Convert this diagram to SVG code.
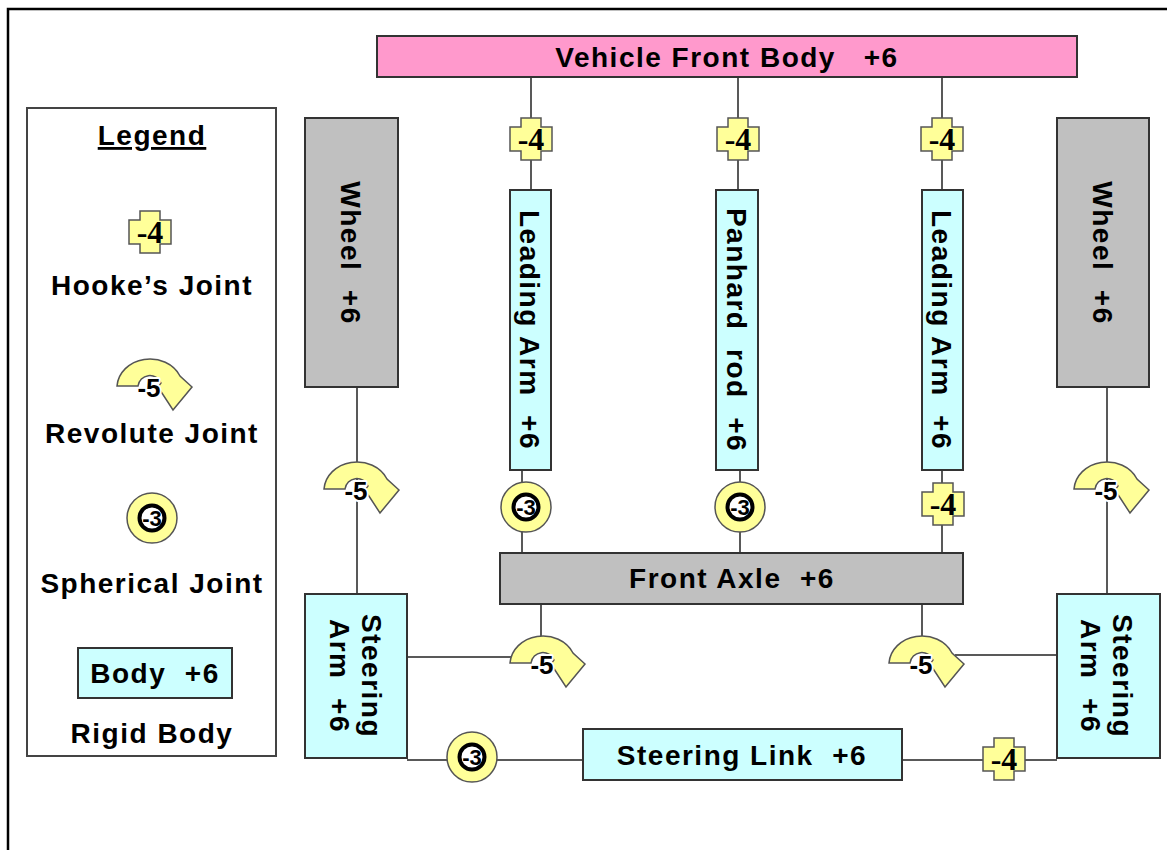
<svg xmlns="http://www.w3.org/2000/svg" xmlns:xlink="http://www.w3.org/1999/xlink" width="1167" height="850" viewBox="0 0 1167 850">
<style>
.t{font-family:"Liberation Sans",Arial,sans-serif;font-weight:bold;font-size:28px;letter-spacing:1.5px;fill:#000;text-anchor:middle;white-space:pre}
.pink{fill:#FF99CC;stroke:#333;stroke-width:2}
.gray{fill:#C0C0C0;stroke:#333;stroke-width:2}
.cyan{fill:#CCFFFF;stroke:#333;stroke-width:2}
.leg{fill:#fff;stroke:#444;stroke-width:2}
.j{fill:#FFFF99;stroke:#555;stroke-width:1.5}
.h4{font-family:"Liberation Serif","Times New Roman",serif;font-weight:bold;font-size:32px;fill:#000;text-anchor:middle}
.r5{font-family:"Liberation Sans",Arial,sans-serif;font-weight:bold;font-size:26px;fill:#000;text-anchor:middle;stroke:#fff;stroke-width:4;paint-order:stroke;stroke-linejoin:round}
.s3{font-family:"Liberation Sans",Arial,sans-serif;font-weight:bold;font-size:22px;fill:#000;text-anchor:middle}
.c{stroke:#222;stroke-width:1.5;fill:none}
</style>
<defs>
<path id="cross" class="j" d="M -10,-21 H 10 V -12 H 21 V 12 H 10 V 21 H -10 V 12 H -21 V -12 H -10 Z"/>
<path id="rev" class="j" d="M -33,0 A 33,29 0 0 1 30,-10 L 42,1 L 23,24 L 8,1 L 11,-3 A 12,12 0 0 0 -12,0 Z"/>
<g id="sph"><circle r="25" class="j"/><circle r="12.5" fill="#fff" stroke="#000" stroke-width="4"/></g>
</defs>
<rect width="1167" height="850" fill="#fff"/>
<rect x="8" y="9" width="1200" height="900" fill="none" stroke="#000" stroke-width="2.5"/>

<g id="connectors">
<line class="c" x1="531" y1="77" x2="531" y2="190"/>
<line class="c" x1="738" y1="77" x2="738" y2="190"/>
<line class="c" x1="942" y1="77" x2="942" y2="190"/>
<line class="c" x1="522" y1="470" x2="522" y2="553"/>
<line class="c" x1="740" y1="470" x2="740" y2="553"/>
<line class="c" x1="942" y1="470" x2="942" y2="553"/>
<line class="c" x1="357" y1="387" x2="357" y2="594"/>
<line class="c" x1="1107" y1="387" x2="1107" y2="594"/>
<line class="c" x1="541" y1="604" x2="541" y2="636"/>
<line class="c" x1="407" y1="657" x2="512" y2="657"/>
<line class="c" x1="922" y1="604" x2="922" y2="636"/>
<line class="c" x1="955" y1="655" x2="1057" y2="655"/>
<line class="c" x1="407" y1="760" x2="583" y2="760"/>
<line class="c" x1="902" y1="760" x2="1057" y2="760"/>
</g>

<g id="legend">
<rect class="leg" x="27" y="108" width="249" height="648"/>
<text class="t" x="152" y="145" text-decoration="underline">Legend</text>
<use href="#cross" x="150" y="232"/>
<text class="h4" x="150" y="243">-4</text>
<text class="t" x="152" y="295">Hooke’s Joint</text>
<use href="#rev" x="150" y="386"/>
<text class="r5" x="149" y="397">-5</text>
<text class="t" x="152" y="443">Revolute Joint</text>
<use href="#sph" x="152" y="518"/>
<text class="s3" x="152" y="526">-3</text>
<text class="t" x="152" y="593">Spherical Joint</text>
<rect class="cyan" x="78" y="648" width="154" height="50"/>
<text class="t" x="155" y="683">Body  +6</text>
<text class="t" x="152" y="743">Rigid Body</text>
</g>

<g id="vehicle-front-body">
<rect class="pink" x="377" y="36" width="700" height="41"/>
<text class="t" x="727" y="67">Vehicle Front Body   +6</text>
</g>

<g id="wheel-left">
<rect class="gray" x="305" y="118" width="93" height="269"/>
<text class="t" transform="translate(351,253) rotate(90)" y="10">Wheel  +6</text>
</g>
<g id="wheel-right">
<rect class="gray" x="1057" y="118" width="92" height="269"/>
<text class="t" transform="translate(1103,253) rotate(90)" y="10">Wheel  +6</text>
</g>

<g id="leading-arm-left">
<rect class="cyan" x="510" y="190" width="41" height="280"/>
<text class="t" transform="translate(530,330) rotate(90)" y="10">Leading Arm  +6</text>
</g>
<g id="panhard-rod">
<rect class="cyan" x="716" y="190" width="42" height="280"/>
<text class="t" transform="translate(737,330) rotate(90)" y="10">Panhard  rod  +6</text>
</g>
<g id="leading-arm-right">
<rect class="cyan" x="922" y="190" width="41" height="280"/>
<text class="t" transform="translate(942,330) rotate(90)" y="10">Leading Arm  +6</text>
</g>

<g id="front-axle">
<rect class="gray" x="500" y="553" width="463" height="51"/>
<text class="t" x="732" y="588">Front Axle  +6</text>
</g>

<g id="steering-arm-left">
<rect class="cyan" x="305" y="594" width="102" height="164"/>
<text class="t" transform="translate(356,676) rotate(90)"><tspan x="0" y="-6">Steering</tspan><tspan x="0" y="26">Arm  +6</tspan></text>
</g>
<g id="steering-arm-right">
<rect class="cyan" x="1057" y="594" width="103" height="164"/>
<text class="t" transform="translate(1107,676) rotate(90)"><tspan x="0" y="-6">Steering</tspan><tspan x="0" y="26">Arm  +6</tspan></text>
</g>

<g id="steering-link">
<rect class="cyan" x="583" y="729" width="319" height="51"/>
<text class="t" x="742" y="765">Steering Link  +6</text>
</g>

<g id="hooke-1"><use href="#cross" x="531" y="139"/><text class="h4" x="531" y="150">-4</text></g>
<g id="hooke-2"><use href="#cross" x="738" y="139"/><text class="h4" x="738" y="150">-4</text></g>
<g id="hooke-3"><use href="#cross" x="942" y="139"/><text class="h4" x="942" y="150">-4</text></g>
<g id="hooke-4"><use href="#cross" x="943" y="504"/><text class="h4" x="943" y="515">-4</text></g>
<g id="hooke-5"><use href="#cross" x="1004" y="759"/><text class="h4" x="1004" y="770">-4</text></g>

<g id="spherical-1"><use href="#sph" x="526" y="507"/><text class="s3" x="526" y="515">-3</text></g>
<g id="spherical-2"><use href="#sph" x="740" y="507"/><text class="s3" x="740" y="515">-3</text></g>
<g id="spherical-3"><use href="#sph" x="472" y="757"/><text class="s3" x="472" y="765">-3</text></g>

<g id="revolute-1"><use href="#rev" x="357" y="489"/><text class="r5" x="356" y="500">-5</text></g>
<g id="revolute-2"><use href="#rev" x="1107" y="489"/><text class="r5" x="1106" y="500">-5</text></g>
<g id="revolute-3"><use href="#rev" x="543" y="663"/><text class="r5" x="542" y="674">-5</text></g>
<g id="revolute-4"><use href="#rev" x="922" y="663"/><text class="r5" x="921" y="674">-5</text></g>
</svg>
